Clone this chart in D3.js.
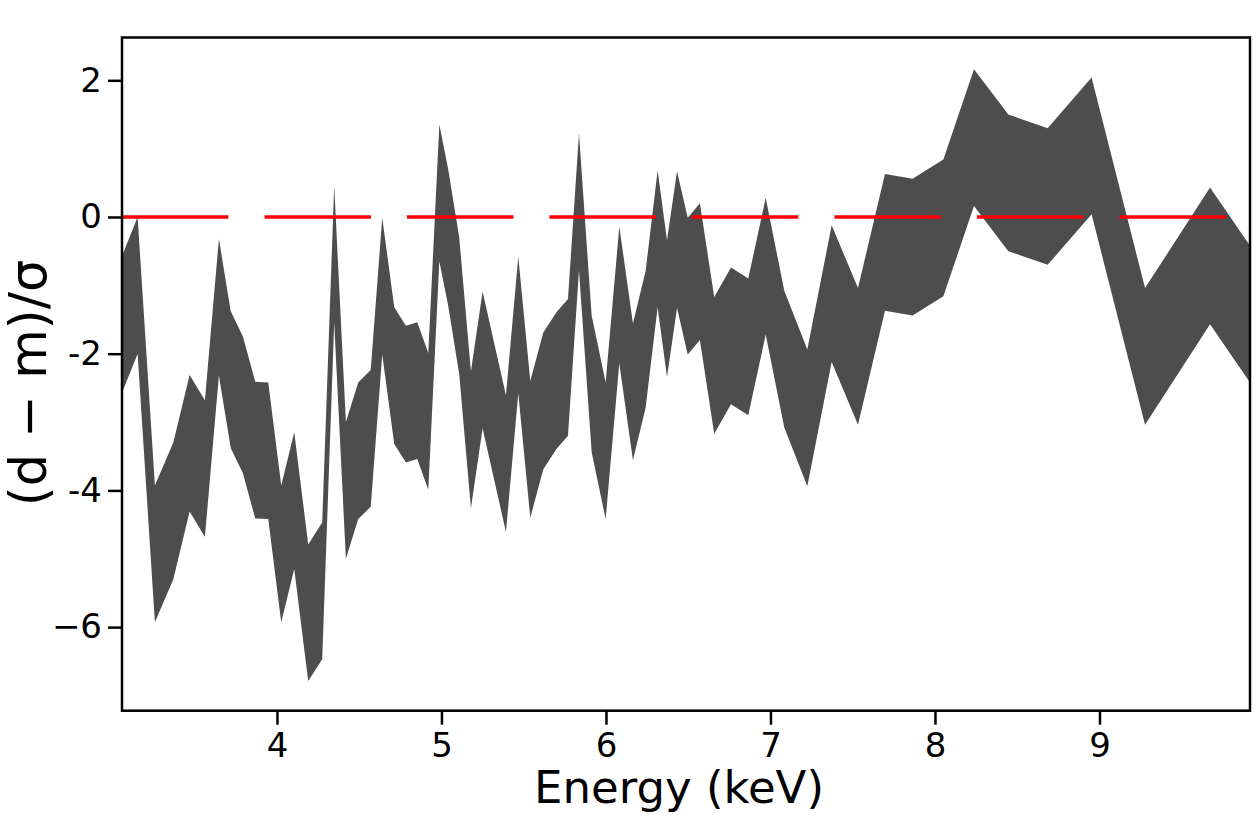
<!DOCTYPE html>
<html>
<head>
<meta charset="utf-8">
<script src="https://cdn.jsdelivr.net/npm/d3@7"></script>
<style>
  body { margin: 0; background: #fff; }
  text { font-family: "DejaVu Sans", sans-serif; }
</style>
</head>
<body>
<script>
// energy bin centres (keV) and residuals (d - m)/sigma, band is resid +/- 1
var energy = [3.058, 3.153, 3.258, 3.370, 3.469, 3.562, 3.647, 3.719, 3.793, 3.868,
              3.947, 4.026, 4.105, 4.190, 4.275, 4.348, 4.419, 4.494, 4.570, 4.640,
              4.713, 4.784, 4.853, 4.920, 4.987, 5.041, 5.108, 5.179, 5.250, 5.392,
              5.467, 5.540, 5.619, 5.700, 5.769, 5.836, 5.913, 5.998, 6.081, 6.164,
              6.241, 6.314, 6.371, 6.432, 6.497, 6.571, 6.658, 6.760, 6.865, 6.971,
              7.084, 7.224, 7.372, 7.532, 7.696, 7.864, 8.051, 8.237, 8.446, 8.685,
              8.952, 9.277, 9.672, 9.915];
var upper = [-0.57, 0.00, -3.93, -3.30, -2.31, -2.68, -0.32, -1.38, -1.75, -2.41,
             -2.42, -3.93, -3.15, -4.79, -4.47, 0.455, -3.00, -2.42, -2.24, -0.01,
             -1.32, -1.59, -1.54, -1.99, 1.354, 0.70, -0.30, -2.26, -1.09, -2.61,
             -0.58, -2.40, -1.69, -1.39, -1.20, 1.22, -1.44, -2.42, -0.14, -1.56,
             -0.79, 0.68, -0.34, 0.67, -0.01, 0.20, -1.17, -0.74, -0.90, 0.28,
             -1.08, -1.94, -0.12, -1.04, 0.63, 0.56, 0.84, 2.16, 1.50, 1.30,
             2.04, -1.04, 0.43, -0.42];
var resid = upper.map(function(u){ return u - 1; });
var halfWidth = 1;

var xTicks = [4, 5, 6, 7, 8, 9];
var yTicks = [-6, -4, -2, 0, 2];
var yTickLabels = ["\u22126", "-4", "-2", "0", "2"];

var w = 1259, h = 825;
var pLeft = 122, pRight = 1250, pTop = 37.5, pBottom = 710.7;

var svg = d3.select("body").append("svg")
    .attr("width", w)
    .attr("height", h);

var x = d3.scaleLinear().domain([3.058, 9.915]).range([pLeft, pRight]);
var y = d3.scaleLinear().domain([-7.223, 2.626]).range([pBottom, pTop]);

svg.append("clipPath").attr("id", "plotclip")
  .append("rect")
    .attr("x", pLeft).attr("y", pTop)
    .attr("width", pRight - pLeft).attr("height", pBottom - pTop);

var pts = energy.map(function(e, i){ return {e: e, r: resid[i]}; });

var area = d3.area()
    .x(function(d){ return x(d.e); })
    .y0(function(d){ return y(d.r - halfWidth); })
    .y1(function(d){ return y(d.r + halfWidth); });

svg.append("path")
    .datum(pts)
    .attr("d", area)
    .attr("fill", "#4d4d4d")
    .attr("clip-path", "url(#plotclip)");

// zero line
svg.append("line")
    .attr("x1", x(3.058)).attr("x2", x(9.915))
    .attr("y1", y(0)).attr("y2", y(0))
    .attr("stroke", "#ff0000")
    .attr("stroke-width", 3.5)
    .attr("stroke-dasharray", "106.4,36.1")
    .attr("clip-path", "url(#plotclip)");

// axes
var xAxis = svg.append("g")
    .attr("transform", "translate(0," + pBottom + ")")
    .call(d3.axisBottom(x).tickValues(xTicks).tickFormat(d3.format("d"))
          .tickSize(14).tickPadding(8.5));

var yAxis = svg.append("g")
    .attr("transform", "translate(" + pLeft + ",0)")
    .call(d3.axisLeft(y).tickValues(yTicks)
          .tickFormat(function(d, i){ return yTickLabels[i]; })
          .tickSize(14).tickPadding(6));

[xAxis, yAxis].forEach(function(g){
  g.select(".domain").remove();
  g.selectAll(".tick line").attr("stroke", "#000").attr("stroke-width", 2.5);
  g.selectAll(".tick text")
    .attr("fill", "#000")
    .style("font-family", "DejaVu Sans")
    .style("font-size", "34px");
});

// frame
svg.append("rect")
    .attr("x", pLeft).attr("y", pTop)
    .attr("width", pRight - pLeft).attr("height", pBottom - pTop)
    .attr("fill", "none")
    .attr("stroke", "#000")
    .attr("stroke-width", 2.5);

svg.append("text")
    .text("Energy (keV)")
    .attr("x", 679)
    .attr("y", 803)
    .attr("text-anchor", "middle")
    .style("font-size", "45px");

svg.append("text")
    .text("(d \u2212 m)/\u03c3")
    .attr("transform", "translate(46,383) rotate(-90)")
    .attr("text-anchor", "middle")
    .style("font-size", "51px");
</script>
</body>
</html>
